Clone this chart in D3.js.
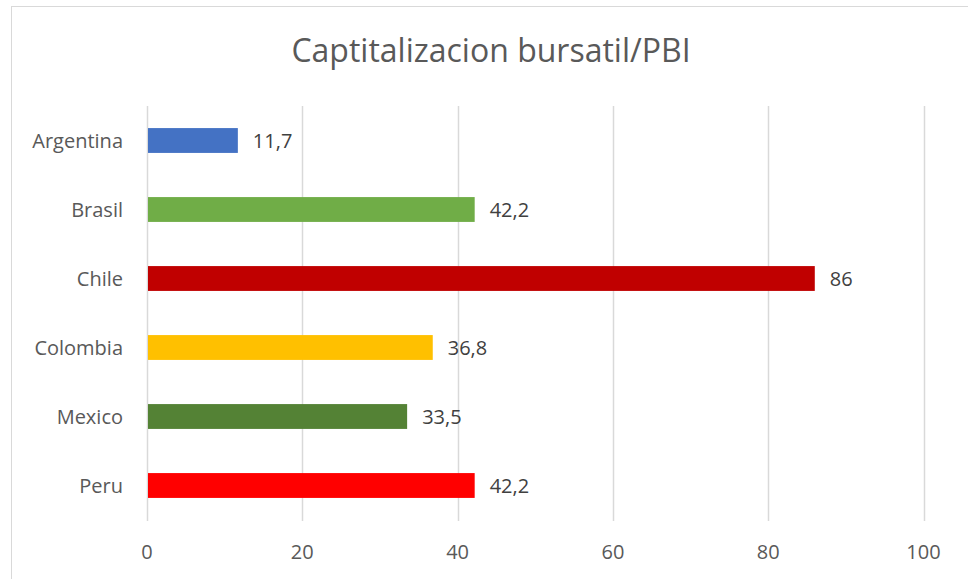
<!DOCTYPE html>
<meta charset="utf-8">
<html>
<head>
    <script src="https://cdn.jsdelivr.net/npm/d3@7"></script>
    <style>
        body { margin: 0; background: #fff; }
        text { font-family: "Open Sans", "Noto Sans", sans-serif; }
    </style>
</head>
<body>
    <script>
    var countries = ["Argentina", "Brasil", "Chile", "Colombia", "Mexico", "Peru"];
    var values = [11.7, 42.2, 86, 36.8, 33.5, 42.2];
    var barColors = ["#4472C4", "#70AD47", "#C00000", "#FFC000", "#548235", "#FF0000"];
    var xTicks = [0, 20, 40, 60, 80, 100];
    var title = "Captitalizacion bursatil/PBI";

    var data = countries.map(function(c, i) {
        return { name: c, value: values[i], color: barColors[i] };
    });

    var svg = d3.select("body")
       .append("svg")
       .attr("width", 968)
       .attr("height", 579);

    // chart frame (cropped at right and bottom)
    svg.append("rect")
       .attr("x", 11.5)
       .attr("y", 6.5)
       .attr("width", 980)
       .attr("height", 600)
       .attr("fill", "#fff")
       .attr("stroke", "#d9d9d9")
       .attr("stroke-width", 1);

    var xScale = d3.scaleLinear()
       .domain([0, 100])
       .range([147, 923.5]);

    var yScale = d3.scaleBand()
       .domain(countries)
       .range([106, 520])
       .paddingInner(0.64)
       .paddingOuter(0.32);

    // gridlines
    svg.selectAll("line.grid")
       .data(xTicks)
       .enter()
       .append("line")
       .attr("class", "grid")
       .attr("x1", function(d) { return Math.round(xScale(d)) + 0.5; })
       .attr("x2", function(d) { return Math.round(xScale(d)) + 0.5; })
       .attr("y1", 106)
       .attr("y2", 521)
       .attr("stroke", "#d9d9d9")
       .attr("stroke-width", 1.5);

    svg.selectAll("text.tick")
       .data(xTicks)
       .enter()
       .append("text")
       .attr("class", "tick")
       .attr("x", function(d) { return xScale(d); })
       .attr("y", 559)
       .attr("text-anchor", "middle")
       .attr("font-size", 20)
       .attr("fill", "#595959")
       .text(function(d) { return d; });

    // bars
    svg.selectAll("rect.bar")
       .data(data)
       .enter()
       .append("rect")
       .attr("class", "bar")
       .attr("x", xScale(0) + 1)
       .attr("y", function(d) { return yScale(d.name); })
       .attr("width", function(d) { return xScale(d.value) - xScale(0) - 1; })
       .attr("height", yScale.bandwidth())
       .attr("fill", function(d) { return d.color; });

    // value labels
    svg.selectAll("text.val")
       .data(data)
       .enter()
       .append("text")
       .attr("class", "val")
       .attr("x", function(d) { return xScale(d.value) + 15; })
       .attr("y", function(d) { return yScale(d.name) + yScale.bandwidth() / 2; })
       .attr("dy", "0.36em")
       .attr("font-size", 20)
       .attr("fill", "#404040")
       .text(function(d) { return String(d.value).replace(".", ","); });

    // category labels
    svg.selectAll("text.cat")
       .data(data)
       .enter()
       .append("text")
       .attr("class", "cat")
       .attr("x", 123)
       .attr("y", function(d) { return yScale(d.name) + yScale.bandwidth() / 2; })
       .attr("dy", "0.36em")
       .attr("text-anchor", "end")
       .attr("font-size", 20)
       .attr("fill", "#595959")
       .text(function(d) { return d.name; });

    svg.append("text")
       .attr("x", 491)
       .attr("y", 62)
       .attr("text-anchor", "middle")
       .attr("font-size", 32)
       .attr("fill", "#595959")
       .text(title);
    </script>
</body>
</html>
